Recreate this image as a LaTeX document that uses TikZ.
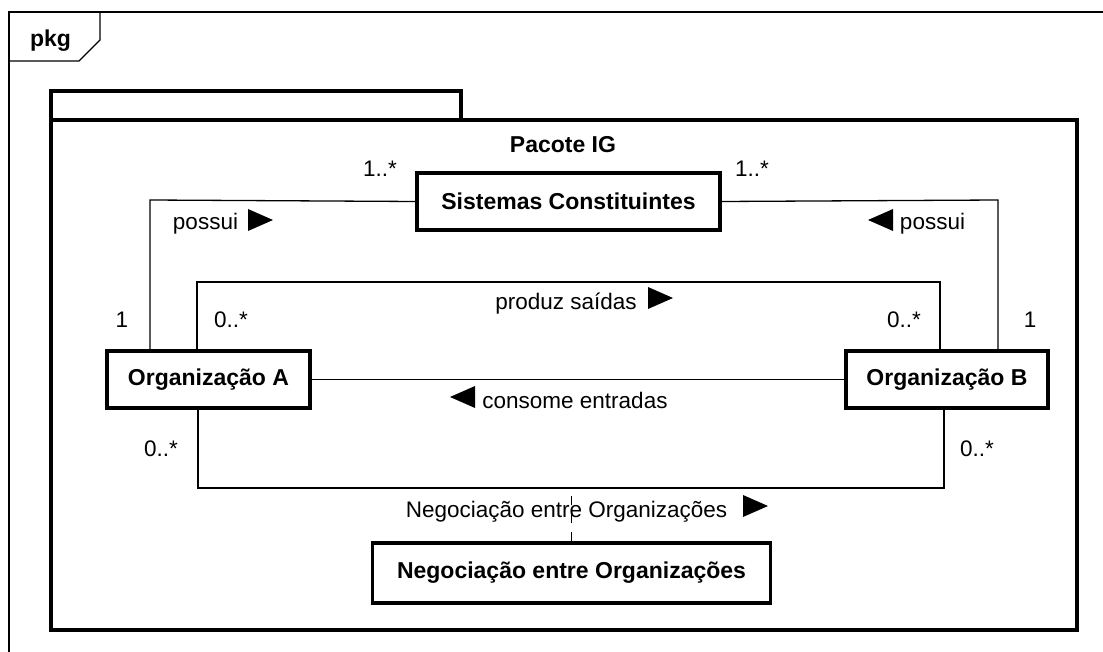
\documentclass[tikz,border=0pt]{standalone}
\usepackage{fontspec}
\setmainfont{Liberation Sans}
\usetikzlibrary{positioning}

\newcommand{\rtri}[1]{\fill (#1) -- ++(0,-11) -- ++(25,11) -- ++(-25,11) -- cycle;}
\newcommand{\ltri}[1]{\fill (#1) -- ++(0,-11) -- ++(-25,11) -- ++(25,11) -- cycle;}

\begin{document}
\begin{tikzpicture}[x=1pt,y=-1pt,line width=1.3pt,
                    every node/.style={inner sep=0pt,font=\fontsize{22.5}{26}\selectfont}]
  \tikzstyle{cls}=[draw,line width=3.5pt,minimum height=57pt,
                   font=\fontsize{23}{27}\selectfont\bfseries]
  \tikzstyle{lbl}=[anchor=base]
  \tikzstyle{thick frame}=[line width=3.5pt]

  \useasboundingbox (0,0) rectangle (1103,652);

  % diagram frame
  \draw (1103,12) -- (9,12) -- (9,652);
  \draw (9,61) -- (79,61) -- (100,40) -- (100,12);
  \node[lbl,font=\fontsize{23}{27}\selectfont\bfseries] (pkg) at (50.5,47) {pkg};

  % package
  \draw[thick frame] (51,120) -- (51,91) -- (461,91) -- (461,120);
  \draw[thick frame] (51,120) rectangle (1077,630);
  \node[lbl,font=\fontsize{23}{27}\selectfont\bfseries] (title) at (563,153) {Pacote IG};

  % classes
  \node[cls,minimum width=303pt] (sis) at (568.5,201.5) {Sistemas Constituintes};
  \node[cls,minimum width=203pt] (orgA) at (208.5,379.5) {Organização A};
  \node[cls,minimum width=202pt] (orgB) at (947,379.5) {Organização B};
  \node[cls,minimum width=398pt,minimum height=60pt] (neg) at (571.5,573)
       {Negociação entre Organizações};

  % corners of the associations
  \coordinate (sl) at (150,200);
  \coordinate (sr) at (998,200);
  \coordinate (pl) at (197,282);
  \coordinate (pr) at (940,282);
  \coordinate (nl) at (198,488);
  \coordinate (nr) at (944,488);

  \draw (sis.west) -- (sl) -- (orgA.north -| sl);
  \draw (sis.east) -- (sr) -- (orgB.north -| sr);
  \draw (orgA.north -| pl) -- (pl) -- (pr) -- (orgB.north -| pr);
  \draw (orgA) -- (orgB);
  \draw (orgA.south -| nl) -- (nl) -- (nr) -- (orgB.south -| nr);
  \draw[dash pattern=on 9pt off 9pt] (neg.north) -- (neg.north |- nl);

  % multiplicities
  \node[lbl] (mSl) at (380,177) {1..*};
  \node[lbl] (mSr) at (752,177) {1..*};
  \node[lbl] (mAs) at (122,327) {1};
  \node[lbl] (mAp) at (231,327) {0..*};
  \node[lbl] (mBp) at (904,327) {0..*};
  \node[lbl] (mBs) at (1030,327) {1};
  \node[lbl] (mAn) at (161,456) {0..*};
  \node[lbl] (mBn) at (977,456) {0..*};

  % association names
  \node[lbl] (possA) at (205.5,230) {possui};
  \rtri{248,220}
  \node[lbl] (possB) at (932.5,230) {possui};
  \ltri{893,220}
  \node[lbl] (prod) at (566,309) {produz saídas};
  \rtri{648,298}
  \node[lbl] (cons) at (575,408) {consome entradas};
  \ltri{475,397}
  \node[lbl] (negl) at (566.5,517) {Negociação entre Organizações};
  \rtri{743,506}
\end{tikzpicture}
\end{document}
